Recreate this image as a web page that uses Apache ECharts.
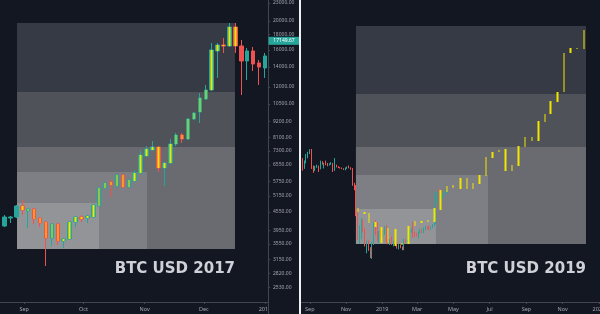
<!DOCTYPE html>
<html><head><meta charset="utf-8">
<script src="https://cdn.jsdelivr.net/npm/echarts@6/dist/echarts.min.js"></script>
<style>html,body{margin:0;padding:0;background:#131722;}#c{width:600px;height:314px;}</style>
</head><body><div id="c"></div>
<script>
// ---------- LEFT PANEL: BTC USD 2017 (3-day candles) ----------
const leftDates = ['2017-08-22','2017-08-25','2017-08-28','2017-08-31','2017-09-03','2017-09-06','2017-09-09','2017-09-12','2017-09-15','2017-09-18','2017-09-21','2017-09-24','2017-09-27','2017-09-30','2017-10-03','2017-10-06','2017-10-09','2017-10-12','2017-10-15','2017-10-18','2017-10-21','2017-10-24','2017-10-27','2017-10-30','2017-11-02','2017-11-05','2017-11-08','2017-11-11','2017-11-14','2017-11-17','2017-11-20','2017-11-23','2017-11-26','2017-11-29','2017-12-02','2017-12-05','2017-12-08','2017-12-11','2017-12-14','2017-12-17','2017-12-20','2017-12-23','2017-12-26','2017-12-29','2018-01-01','2018-01-04'];
const leftOpen  = [4077,4338,4372,4761,4580,4652,4338,4205,3714,4140,3629,3685,4205,4372,4338,4372,4761,5474,5735,5560,6055,5517,5780,6150,7017,7351,7524,6393,6646,7701,8258,8006,9350,9872,10920,11711,15850,16607,16478,19090,16478,14667,15850,14442,13892,15247];
const leftClose = [4372,4372,4761,4616,4652,4304,4173,3714,4140,3629,3685,4205,4372,4304,4406,4798,5474,5691,5603,6055,5517,5825,6150,7072,7408,7524,6393,6646,7701,8258,8006,9350,9796,11006,11711,15974,16607,16478,19090,16478,14667,15850,14330,14000,15247,17149.67];
const leftLow   = [4045,4173,4338,4440,4014,4140,4045,2989,3490,3518,3437,3657,4045,4205,4173,4338,4724,5432,5105,5517,5474,5474,5735,6103,6963,7330,6198,5560,6595,7583,7761,7944,9278,9064,10836,11620,12855,15607,16351,15607,11265,12657,13572,12175,12855,14800];
const leftHigh  = [4440,4406,4798,4988,4680,4688,4372,4230,4173,4173,3714,4238,4406,4440,4440,4835,5517,5735,5825,6103,6103,5870,6295,7351,7583,7882,7540,6698,8006,8387,8387,9423,9872,11442,12175,16866,16866,17533,19692,19692,17263,16224,16351,14782,15607,17263];
const leftPatternFrom = '2017-08-31', leftPatternTo = '2017-12-17';

// ---------- RIGHT PANEL: BTC USD 2019 (3-day candles) ----------
const rightDates = ['2018-08-20','2018-08-23','2018-08-26','2018-08-29','2018-09-01','2018-09-04','2018-09-07','2018-09-10','2018-09-13','2018-09-16','2018-09-19','2018-09-22','2018-09-25','2018-09-28','2018-10-01','2018-10-04','2018-10-07','2018-10-10','2018-10-13','2018-10-16','2018-10-19','2018-10-22','2018-10-25','2018-10-28','2018-10-31','2018-11-03','2018-11-06','2018-11-09','2018-11-12','2018-11-15','2018-11-18','2018-11-21','2018-11-24','2018-11-27','2018-11-30','2018-12-03','2018-12-06','2018-12-09','2018-12-12','2018-12-15','2018-12-18','2018-12-21','2018-12-24','2018-12-27','2018-12-30','2019-01-02','2019-01-05','2019-01-08','2019-01-11','2019-01-14','2019-01-17','2019-01-20','2019-01-23','2019-01-26','2019-01-29','2019-02-01','2019-02-04','2019-02-07','2019-02-10','2019-02-13','2019-02-16','2019-02-19','2019-02-22','2019-02-25','2019-02-28','2019-03-03','2019-03-06','2019-03-09','2019-03-12','2019-03-15','2019-03-18','2019-03-21','2019-03-24','2019-03-27','2019-03-30','2019-04-02','2019-04-05','2019-04-08','2019-04-11','2019-04-14','2019-04-17','2019-04-20'];
const rightOpen  = [6500,6370,6700,7030,7200,7370,6450,6300,6480,6500,6380,6700,6590,6630,6600,6560,6600,6640,6280,6480,6460,6420,6400,6360,6340,6390,6420,6410,6340,5630,5570,4560,3840,3870,4190,3960,3500,3610,3420,3250,3550,4050,3950,3750,3880,3810,3860,4000,3620,3560,3600,3540,3580,3570,3450,3510,3460,3400,3640,3620,3640,3900,3990,3830,3820,3810,3870,3940,3880,3990,4030,4020,4010,4040,4110,4150,4900,5200,5050,5080,5250,5300];
const rightClose = [6370,6700,7030,7200,7370,6450,6300,6480,6500,6380,6700,6590,6630,6600,6560,6600,6640,6280,6480,6460,6420,6400,6360,6340,6390,6420,6410,6340,5630,5570,4560,3840,3870,4190,3960,3500,3610,3420,3250,3550,4050,3950,3750,3880,3810,3860,4000,3620,3560,3600,3540,3580,3570,3450,3510,3460,3400,3640,3620,3640,3900,3990,3830,3820,3810,3870,3940,3880,3990,4030,4020,4010,4040,4110,4150,4900,5200,5050,5080,5250,5300,5380];
const rightLow   = [6260,6350,6630,6890,7130,6350,6160,6250,6400,6200,6330,6560,6370,6530,6480,6520,6560,6200,6250,6420,6390,6370,6340,6300,6280,6350,6380,6310,5570,5380,4400,3650,3550,3680,3880,3480,3300,3360,3180,3160,3520,3800,3620,3570,3700,3740,3810,3580,3540,3520,3520,3480,3520,3420,3400,3430,3380,3380,3580,3580,3620,3870,3720,3750,3760,3700,3850,3860,3860,3950,3990,3940,3950,4010,4080,4140,4850,4950,5000,5040,5200,5250];
const rightHigh  = [6900,6780,7130,7250,7400,7410,6520,6500,6560,6520,6770,6740,6660,6770,6650,6630,6690,6650,6900,6560,6480,6440,6420,6380,6420,6470,6520,6430,6390,5700,5600,4640,4100,4340,4290,4000,3640,3650,3460,3600,4200,4270,4200,3920,3950,3940,4070,4100,3700,3680,3760,3620,3620,3600,3540,3540,3480,3690,3680,3660,3950,4000,4200,3900,3860,3900,3990,3980,4030,4070,4060,4090,4070,4140,4180,5300,5330,5450,5150,5290,5330,5450];
// projected (yellow) bars of the 2017 pattern
const rightBarDates = ['2018-11-21','2018-12-02','2018-12-10','2018-12-21','2018-12-31','2019-01-11','2019-01-23','2019-02-03','2019-02-14','2019-02-25','2019-03-08','2019-03-19','2019-03-30','2019-04-09','2019-04-20','2019-04-30','2019-05-13','2019-05-24','2019-06-03','2019-06-14','2019-06-25','2019-07-06','2019-07-17','2019-07-28','2019-08-08','2019-08-19','2019-08-30','2019-09-10','2019-09-21','2019-10-02','2019-10-12','2019-10-23','2019-11-03','2019-11-14','2019-11-25','2019-12-07'];
const rightBarLow  = [4544,4475,4173,4045,3573,3573,3490,3518,3545,4077,4173,4205,4205,4616,5306,5474,5432,5432,5432,5647,6009,6909,7238,6246,6246,6493,7524,7882,7882,9135,9720,10669,11531,15607,16098,16098];
const rightBarHigh = [4688,4544,4509,4205,4045,4014,3983,3573,4077,4238,4238,4271,4688,5390,5560,5603,5916,5916,5691,6055,6963,7238,7351,7408,6544,7583,8131,8131,9206,9720,10752,11531,15607,16224,16224,18651];

// ---------- axes ----------
const priceTicks = [23000,20000,18000,16000,14000,12000,10500,9200,8100,7300,6550,5750,5150,4550,3950,3550,3150,2820,2530];
const leftTickDates  = ['2017-09-01','2017-10-01','2017-11-01','2017-12-01','2018-01-01'];
const leftTickLabels = ['Sep','Oct','Nov','Dec','2018'];
const rightTickDates  = ['2018-09-01','2018-11-01','2019-01-01','2019-03-01','2019-05-01','2019-07-01','2019-09-01','2019-11-01','2020-01-01'];
const rightTickLabels = ['Sep','Nov','2019','Mar','May','Jul','Sep','Nov','2020'];
const priceMin = 2261, priceMax = 23540;
const leftRange  = ['2017-08-19T17:00:00','2018-01-02T13:00:00'];
const rightRange = ['2018-08-17T04:00:00','2020-01-03T00:00:00'];

// ---------- shaded boxes [from, to, lowPrice, highPrice] ----------
const leftBoxes = [
  ['2017-08-28T08:00:00','2017-12-16T19:00:00',3410,19692],
  ['2017-08-28T08:00:00','2017-12-16T19:00:00',3410,11531],
  ['2017-08-28T08:00:00','2017-12-16T19:00:00',3410,7524],
  ['2017-08-28T08:00:00','2017-11-02T05:00:00',3410,6198],
  ['2017-08-28T08:00:00','2017-10-08T22:00:00',3410,4873]
];
const rightBoxes = [
  ['2018-11-17T19:00:00','2019-12-10T10:00:00',3545,19239],
  ['2018-11-17T19:00:00','2019-12-10T10:00:00',3545,11353],
  ['2018-11-17T19:00:00','2019-12-10T10:00:00',3545,7524],
  ['2018-11-17T19:00:00','2019-06-28T07:00:00',3545,6055],
  ['2018-11-17T19:00:00','2019-04-01T14:00:00',3545,4652]
];
const boxColors = ['#363a44','#4f5259','#6a6b71','#7e7f84','#939498'];

// ---------- helpers ----------
const T = s => +new Date(s.length === 10 ? s + 'T00:00:00' : s);
const L = v => Math.log10(v);
const UP = '#26a69a', DOWN = '#ef5350', YEL = '#f2e600', BG = '#131722';
const AX = '#434651', TXT = '#a3a6af';

const leftCandles = leftDates.map((d,i)=>[T(d), L(leftOpen[i]), L(leftClose[i]), L(leftLow[i]), L(leftHigh[i])]);
const leftOverlay = [];
leftDates.forEach((d,i)=>{
  if (T(d) >= T(leftPatternFrom) && T(d) <= T(leftPatternTo)) {
    const o = leftOpen[i], c = leftClose[i];
    leftOverlay.push([T(d), L(o), L(c), L(Math.min(o,c)), L(Math.max(o,c))]);
  }
});
const rightCandles = rightDates.map((d,i)=>[T(d), L(rightOpen[i]), L(rightClose[i]), L(rightLow[i]), L(rightHigh[i])]);
const rightBars = rightBarDates.map((d,i)=>[T(d), L(rightBarLow[i]), L(rightBarHigh[i]), L(rightBarLow[i]), L(rightBarHigh[i])]);

const boxArea = boxes => boxes.map((b,i)=>[
  {xAxis:T(b[0]), yAxis:L(b[3]), itemStyle:{color:boxColors[i], opacity:1}},
  {xAxis:T(b[1]), yAxis:L(b[2])}
]);

const tickFmt = (dates, labels) => v => {
  let best = 0, bd = Infinity;
  dates.forEach((d,i)=>{ const dd = Math.abs(T(d)-v); if (dd<bd){bd=dd;best=i;} });
  return labels[best];
};
const priceFmt = v => {
  let best = priceTicks[0], bd = Infinity;
  priceTicks.forEach(p=>{ const dd = Math.abs(L(p)-v); if (dd<bd){bd=dd;best=p;} });
  return best.toFixed(2);
};

const lastClose = leftClose[leftClose.length-1];
const candleStyle = {color:UP, color0:DOWN, borderColor:UP, borderColor0:DOWN, borderWidth:1};
const yellowStyle = {color:YEL, color0:YEL, borderColor:YEL, borderColor0:YEL, borderWidth:0};

const chart = echarts.init(document.getElementById('c'), null, {renderer:'canvas'});
chart.setOption({
  backgroundColor: BG,
  animation: false,
  title: [
    {text:'BTC USD 2017', right:365, top:262, padding:0,
     textStyle:{color:'#cfd1d6', fontSize:15, fontWeight:'bold', fontFamily:'DejaVu Sans'}},
    {text:'BTC USD 2019', right:14, top:262, padding:0,
     textStyle:{color:'#cfd1d6', fontSize:15, fontWeight:'bold', fontFamily:'DejaVu Sans'}}
  ],
  grid: [
    {left:0, top:0, width:268, height:302, outerBoundsMode:'none', containLabel:false},
    {left:301, top:0, width:299, height:302, outerBoundsMode:'none', containLabel:false}
  ],
  xAxis: [
    {type:'value', gridIndex:0, min:T(leftRange[0]), max:T(leftRange[1]),
     splitLine:{show:false},
     axisLine:{show:true, lineStyle:{color:AX}},
     axisTick:{show:true, length:2, customValues:leftTickDates.map(T), lineStyle:{color:AX}},
     axisLabel:{customValues:leftTickDates.map(T), formatter:tickFmt(leftTickDates,leftTickLabels),
       color:TXT, fontSize:5.5, margin:4, fontFamily:'Noto Sans'}},
    {type:'value', gridIndex:1, min:T(rightRange[0]), max:T(rightRange[1]),
     splitLine:{show:false},
     axisLine:{show:true, lineStyle:{color:AX}},
     axisTick:{show:true, length:2, customValues:rightTickDates.map(T), lineStyle:{color:AX}},
     axisLabel:{customValues:rightTickDates.map(T), formatter:tickFmt(rightTickDates,rightTickLabels),
       color:TXT, fontSize:5.5, margin:4, fontFamily:'Noto Sans', showMaxLabel:true}}
  ],
  yAxis: [
    {type:'value', gridIndex:0, position:'right', min:L(priceMin), max:L(priceMax),
     splitLine:{show:false},
     axisLine:{show:true, lineStyle:{color:AX}},
     axisTick:{show:true, length:2, customValues:priceTicks.map(L), lineStyle:{color:AX}},
     axisLabel:{customValues:priceTicks.map(L), formatter:priceFmt, color:TXT, fontSize:5, margin:5, fontFamily:'Noto Sans'}},
    {type:'value', gridIndex:1, position:'left', min:L(priceMin), max:L(priceMax),
     splitLine:{show:false}, axisLine:{show:false}, axisTick:{show:false}, axisLabel:{show:false}}
  ],
  series: [
    {type:'candlestick', name:'BTC 2017', xAxisIndex:0, yAxisIndex:0, data:leftCandles, barWidth:4,
     itemStyle:candleStyle, z:3,
     markArea:{silent:true, data:boxArea(leftBoxes)}},
    {type:'candlestick', name:'pattern 2017', xAxisIndex:0, yAxisIndex:0, data:leftOverlay, barWidth:2,
     itemStyle:yellowStyle, z:4},
    {type:'line', name:'last price', xAxisIndex:0, yAxisIndex:0, z:6, silent:true,
     data:[[T(leftRange[1]), L(lastClose)]], symbol:'none', lineStyle:{width:0},
     label:{show:false},
     markPoint:{silent:true, symbol:'rect', symbolSize:[31,8], symbolOffset:[16,0],
       itemStyle:{color:UP},
       data:[{coord:[T(leftRange[1]), L(lastClose)]}],
       label:{show:true, position:'inside', formatter:lastClose.toFixed(2), color:'#ffffff', fontSize:5, fontFamily:'Noto Sans'}}},
    {type:'candlestick', name:'BTC 2018-19', xAxisIndex:1, yAxisIndex:1, data:rightCandles, barWidth:1,
     itemStyle:candleStyle, z:3,
     markArea:{silent:true, data:boxArea(rightBoxes)}},
    {type:'candlestick', name:'pattern 2019', xAxisIndex:1, yAxisIndex:1, data:rightBars, barWidth:2,
     itemStyle:yellowStyle, z:4}
  ],
  graphic: [
    {type:'rect', left:269, top:303, shape:{width:30, height:11}, style:{fill:BG}, z:100},
    {type:'rect', left:268, top:302, shape:{width:1, height:12}, style:{fill:AX}, z:101},
    {type:'rect', left:299, top:0, shape:{width:2, height:314}, style:{fill:'#eef0f3'}, z:101}
  ]
});
</script></body></html>
